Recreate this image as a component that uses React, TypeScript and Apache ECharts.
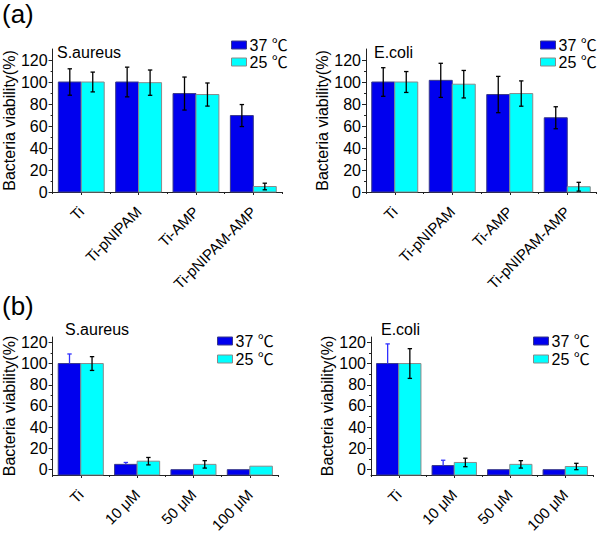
import React, { useEffect, useRef } from "react";
import * as echarts from "echarts";

// ---------- data ----------
const CATS_A = ["Ti", "Ti-pNIPAM", "Ti-AMP", "Ti-pNIPAM-AMP"];
const CATS_B = ["Ti", "10 μM", "50 μM", "100 μM"];
const SERIES_NAMES = ["37 ℃", "25 ℃"];
const Y_TICKS = [0, 20, 40, 60, 80, 100, 120];
const Y_MINOR = [10, 30, 50, 70, 90, 110];

// (a) S.aureus
const A_SA_37 = [100, 100, 89.5, 69.5];
const A_SA_37_ERR = [12, 13.5, 15, 10];
const A_SA_25 = [100, 99.4, 88.6, 5];
const A_SA_25_ERR = [9, 11.5, 10.5, 3];
// (a) E.coli
const A_EC_37 = [100, 101.5, 88.6, 67.5];
const A_EC_37_ERR = [13, 15.5, 16.5, 10];
const A_EC_25 = [100, 98, 89.5, 4.8];
const A_EC_25_ERR = [9.5, 12.5, 11.5, 4];
// (b) S.aureus
const B_SA_37 = [100, 5, 0, 0];
const B_SA_37_ERR = [9, 1.8, 0, 0];
const B_SA_25 = [100, 8, 5, 3.3];
const B_SA_25_ERR = [6.5, 3.5, 3.5, 0];
// (b) E.coli
const B_EC_37 = [100, 3.9, 0, 0];
const B_EC_37_ERR = [18.5, 5, 0, 0];
const B_EC_25 = [100, 6.8, 5, 3];
const B_EC_25_ERR = [14, 4, 3.5, 3];

// ---------- styling ----------
const C37 = "#0000ee";
const C25 = "#00ffff";
const BORDER37 = "#3a3a8a";
const BORDER25 = "#8a8a8a";
const AXIS = "#222";
const FONT = "'Liberation Sans', Arial, 'Noto Sans CJK SC', sans-serif";

const PANELS = [
  {
    grid: { left: 51, top: 49, width: 231, height: 143 },
    cats: CATS_A, min: 0, max: 130,
    title: "S.aureus", titlePos: [57, 44], legendPos: [231, 37], legendGap: 1,
    v37: A_SA_37, e37: A_SA_37_ERR, v25: A_SA_25, e25: A_SA_25_ERR,
    errColor37: "#000", upperOnly37: false, nameGap: 33,
  },
  {
    grid: { left: 366, top: 49, width: 230, height: 143 },
    cats: CATS_A, min: 0, max: 130,
    title: "E.coli", titlePos: [374, 44], legendPos: [540, 37], legendGap: 1,
    v37: A_EC_37, e37: A_EC_37_ERR, v25: A_EC_25, e25: A_EC_25_ERR,
    errColor37: "#000", upperOnly37: false, nameGap: 32,
  },
  {
    grid: { left: 52, top: 337, width: 226, height: 144 },
    cats: CATS_B, min: -5, max: 125,
    title: "S.aureus", titlePos: [65, 321], legendPos: [217, 333], legendGap: 2,
    v37: B_SA_37, e37: B_SA_37_ERR, v25: B_SA_25, e25: B_SA_25_ERR,
    errColor37: "#3030ff", upperOnly37: true, nameGap: 30,
  },
  {
    grid: { left: 371, top: 337, width: 222, height: 144 },
    cats: CATS_B, min: -5, max: 125,
    title: "E.coli", titlePos: [381, 321], legendPos: [533, 333], legendGap: 2,
    v37: B_EC_37, e37: B_EC_37_ERR, v25: B_EC_25, e25: B_EC_25_ERR,
    errColor37: "#3030ff", upperOnly37: true, nameGap: 32,
  },
];

const BAR_FRAC = 0.4;

function barRender(side: number, min: number, fill: string, stroke: string) {
  return (_params: any, api: any) => {
    const i = api.value(0);
    const v = api.value(1);
    const top = api.coord([i, v]);
    const base = api.coord([i, min]);
    const band = api.size([1, 0])[0];
    const w = band * BAR_FRAC;
    const x = side === 0 ? top[0] - w : top[0];
    return {
      type: "rect",
      shape: { x, y: top[1], width: w, height: base[1] - top[1] },
      style: { fill, stroke, lineWidth: 1 },
    };
  };
}

function errRender(side: number, color: string, upperOnly: boolean) {
  return (_params: any, api: any) => {
    const i = api.value(0);
    const v = api.value(1);
    const e = api.value(2);
    if (!e) return null;
    const band = api.size([1, 0])[0];
    const w = band * BAR_FRAC;
    const c = api.coord([i, v]);
    const cx = side === 0 ? c[0] - w / 2 : c[0] + w / 2;
    const hi = api.coord([i, v + e])[1];
    const lo = upperOnly ? c[1] : api.coord([i, v - e])[1];
    const cap = 2.2;
    const style = { stroke: color, lineWidth: 1.3 };
    const children: any[] = [
      { type: "line", shape: { x1: cx, y1: hi, x2: cx, y2: lo }, style },
      { type: "line", shape: { x1: cx - cap, y1: hi, x2: cx + cap, y2: hi }, style },
    ];
    if (!upperOnly) {
      children.push({ type: "line", shape: { x1: cx - cap, y1: lo, x2: cx + cap, y2: lo }, style });
    }
    return { type: "group", children };
  };
}

function buildOption() {
  const grids: any[] = [];
  const xAxes: any[] = [];
  const yAxes: any[] = [];
  const series: any[] = [];
  const titles: any[] = [
    { text: "(a)", left: 2, top: 1, padding: 0, textStyle: { fontSize: 26, fontWeight: "normal", color: "#000", fontFamily: FONT } },
    { text: "(b)", left: 2, top: 293, padding: 0, textStyle: { fontSize: 26, fontWeight: "normal", color: "#000", fontFamily: FONT } },
  ];
  const legends: any[] = [];

  PANELS.forEach((p, k) => {
    grids.push({ ...p.grid, containLabel: false });
    xAxes.push({
      type: "category", gridIndex: k, data: p.cats, position: "bottom",
      boundaryGap: true,
      axisLine: { show: true, onZero: false, lineStyle: { color: AXIS, width: 1 } },
      axisTick: { show: true, alignWithLabel: true, length: 3, lineStyle: { color: AXIS } },
      axisLabel: { rotate: 45, interval: 0, margin: 17, fontSize: 15, color: "#000", fontFamily: FONT },
      splitLine: { show: false },
    });
    xAxes.push({
      type: "category", gridIndex: k, data: p.cats, position: "bottom",
      boundaryGap: true,
      axisLine: { show: false, onZero: false },
      axisTick: { show: true, alignWithLabel: false, interval: 0, length: 2, lineStyle: { color: AXIS } },
      axisLabel: { show: false },
      splitLine: { show: false },
    });
    yAxes.push({
      type: "value", gridIndex: k, min: p.min, max: p.max, position: "left",
      name: "Bacteria viability(%)", nameLocation: "middle", nameGap: p.nameGap,
      nameTextStyle: { fontSize: 16, color: "#000", fontFamily: FONT },
      axisLine: { show: true, onZero: false, lineStyle: { color: AXIS, width: 1 } },
      axisTick: { show: true, length: 4, customValues: Y_TICKS, lineStyle: { color: AXIS } },
      axisLabel: { show: true, customValues: Y_TICKS, margin: 5, fontSize: 16, color: "#000", fontFamily: FONT },
      splitLine: { show: false },
    });
    yAxes.push({
      type: "value", gridIndex: k, min: p.min, max: p.max, position: "left", offset: 0,
      axisLine: { show: false },
      axisTick: { show: true, length: 2, customValues: Y_MINOR, lineStyle: { color: AXIS } },
      axisLabel: { show: false },
      splitLine: { show: false },
    });

    const xi = 2 * k;
    const yi = 2 * k;
    const d37 = p.v37.map((v, i) => [i, v, p.e37[i]]);
    const d25 = p.v25.map((v, i) => [i, v, p.e25[i]]);
    series.push({
      type: "custom", name: SERIES_NAMES[0], xAxisIndex: xi, yAxisIndex: yi,
      data: d37, encode: { x: 0, y: 1 }, z: 2,
      itemStyle: { color: C37, borderColor: BORDER37, borderWidth: 1 },
      renderItem: barRender(0, p.min, C37, BORDER37),
    });
    series.push({
      type: "custom", name: SERIES_NAMES[1], xAxisIndex: xi, yAxisIndex: yi,
      data: d25, encode: { x: 0, y: 1 }, z: 2,
      itemStyle: { color: C25, borderColor: BORDER25, borderWidth: 1 },
      renderItem: barRender(1, p.min, C25, BORDER25),
    });
    series.push({
      type: "custom", name: "err37-" + k, xAxisIndex: xi, yAxisIndex: yi,
      data: d37, encode: { x: 0, y: 1 }, z: 3,
      renderItem: errRender(0, p.errColor37, p.upperOnly37),
    });
    series.push({
      type: "custom", name: "err25-" + k, xAxisIndex: xi, yAxisIndex: yi,
      data: d25, encode: { x: 0, y: 1 }, z: 3,
      renderItem: errRender(1, "#000", false),
    });

    titles.push({
      text: p.title, left: p.titlePos[0], top: p.titlePos[1], padding: 0,
      textStyle: { fontSize: 16, fontWeight: "normal", color: "#000", fontFamily: FONT },
    });
    legends.push({
      orient: "vertical", left: p.legendPos[0], top: p.legendPos[1], padding: 0,
      itemWidth: 15, itemHeight: 8, itemGap: p.legendGap, selectedMode: false,
      textStyle: { fontSize: 16, color: "#000", fontFamily: FONT, padding: [0, 0, 0, -2] },
      data: [
        { name: SERIES_NAMES[0], icon: "rect", itemStyle: { color: C37, borderColor: BORDER37, borderWidth: 1 } },
        { name: SERIES_NAMES[1], icon: "rect", itemStyle: { color: C25, borderColor: BORDER25, borderWidth: 1 } },
      ],
    });
  });

  return {
    animation: false,
    backgroundColor: "#fff",
    textStyle: { fontFamily: FONT },
    title: titles,
    legend: legends,
    grid: grids,
    xAxis: xAxes,
    yAxis: yAxes,
    series,
  };
}

export default function App() {
  const ref = useRef<HTMLDivElement>(null);
  useEffect(() => {
    if (!ref.current) return;
    const chart = echarts.init(ref.current, undefined, { renderer: "svg" });
    chart.setOption(buildOption() as any);
    return () => chart.dispose();
  }, []);
  return (
    <div
      ref={ref}
      style={{ position: "fixed", left: 0, top: 0, width: 600, height: 535, background: "#fff" }}
    />
  );
}
